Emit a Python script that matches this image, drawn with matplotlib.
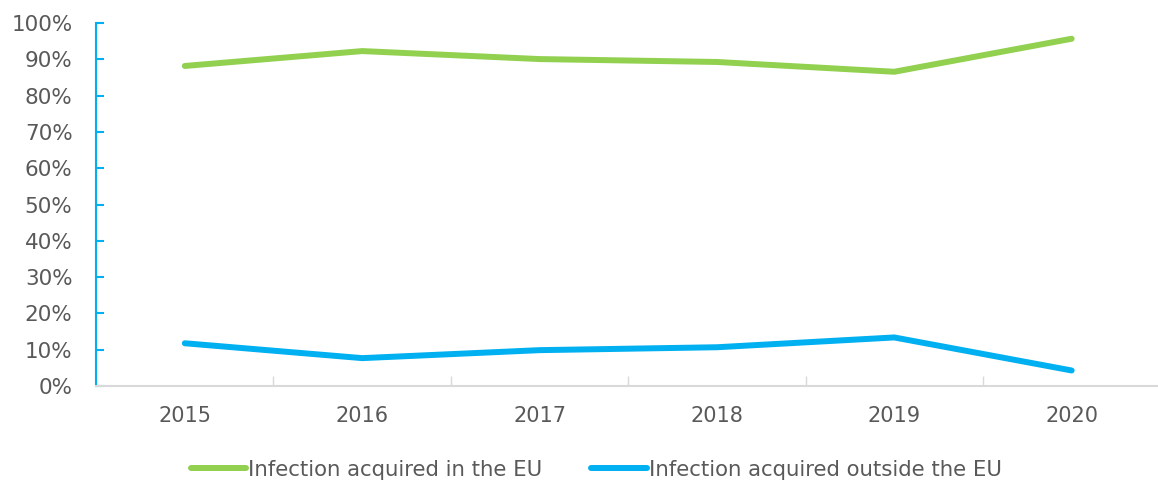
import matplotlib
matplotlib.use("Agg")
import matplotlib.pyplot as plt
from matplotlib.ticker import PercentFormatter, FixedLocator

years = ["2015", "2016", "2017", "2018", "2019", "2020"]
in_eu = [88.2, 92.3, 90.1, 89.3, 86.6, 95.7]
outside_eu = [11.8, 7.7, 9.9, 10.7, 13.4, 4.3]

green = "#92D050"
blue = "#00B0F0"
grey = "#595959"

plt.rcParams["font.family"] = "DejaVu Sans"

fig = plt.figure(figsize=(11.58, 4.82), dpi=100)
ax = fig.add_axes([0.083, 0.199, 0.919, 0.753])

x = range(len(years))
ax.plot(x, [v / 100 for v in in_eu], color=green, lw=4.3, solid_capstyle="round",
        label="Infection acquired in the EU")
ax.plot(x, [v / 100 for v in outside_eu], color=blue, lw=4.3, solid_capstyle="round",
        label="Infection acquired outside the EU")

ax.set_xlim(-0.5, len(years) - 0.5)
ax.set_ylim(0, 1)
ax.set_yticks([i / 10 for i in range(11)])
ax.yaxis.set_major_formatter(PercentFormatter(1.0, decimals=0))
ax.set_xticks(list(x))
ax.set_xticklabels(years)
ax.xaxis.set_minor_locator(FixedLocator([i + 0.5 for i in range(len(years) - 1)]))

for s in ["top", "right"]:
    ax.spines[s].set_visible(False)
ax.spines["left"].set_color(blue)
ax.spines["left"].set_linewidth(1.5)
ax.spines["bottom"].set_color("#D9D9D9")
ax.spines["bottom"].set_linewidth(1.5)

ax.tick_params(axis="y", direction="in", length=6, width=1.5, color=blue,
               labelsize=15.5, labelcolor=grey, pad=17)
ax.tick_params(axis="x", which="major", length=0, labelsize=15, labelcolor=grey, pad=14)
ax.tick_params(axis="x", which="minor", direction="in", length=7, width=1, color="#D9D9D9")

fig.legend(loc="lower center", bbox_to_anchor=(0.515, -0.035), ncol=2, frameon=False,
           fontsize=15.3, labelcolor=grey, handlelength=2.6, handletextpad=0.1,
           columnspacing=2.3)

fig.savefig("out.png", dpi=100)
